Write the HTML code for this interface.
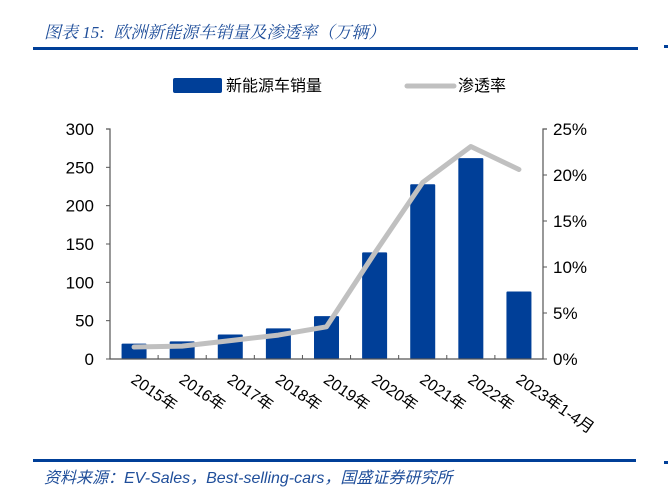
<!DOCTYPE html>
<html><head><meta charset="utf-8"><style>
body{margin:0;background:#fff;width:668px;height:490px;overflow:hidden;position:relative;font-family:"Liberation Sans","Noto Sans CJK SC",sans-serif}
.t{position:absolute;white-space:nowrap}
</style></head><body>
<div class="t" style="left:44px;top:18px;font-size:17px;font-style:italic;color:#1f4e9a;font-family:'Liberation Serif','Noto Serif CJK SC',serif">图表 15:&nbsp; 欧洲新能源车销量及渗透率（万辆）</div>
<div style="position:absolute;left:33px;top:47px;width:605px;height:3px;background:#003f98"></div>
<div style="position:absolute;left:664px;top:45px;width:4px;height:3px;background:#003f98"></div>
<svg id="c" width="668" height="490" style="position:absolute;left:0;top:0"></svg>
<div style="position:absolute;left:33px;top:459px;width:603px;height:3px;background:#003f98"></div>
<div style="position:absolute;left:664px;top:461px;width:4px;height:3px;background:#003f98"></div>
<div class="t" style="left:44px;top:464px;font-size:16px;font-style:italic;color:#1f4e9a">资料来源：EV-Sales，Best-selling-cars，国盛证券研究所</div>
<script>
const categories=["2015年","2016年","2017年","2018年","2019年","2020年","2021年","2022年","2023年1-4月"];
const sales=[20,23,32,40,56,139,228,262,88];
const penetration=[1.3,1.4,2.0,2.6,3.5,11.5,19.2,23.1,20.6];
const leftTicks=[0,50,100,150,200,250,300];
const rightTicks=[0,5,10,15,20,25];
const svg=document.getElementById('c');const NS='http://www.w3.org/2000/svg';
const L=110,R=543,T=129,B=359;
const bw=(R-L)/categories.length;
const xc=i=>L+bw*(i+0.5);
const yL=v=>B-(v/300)*(B-T);
const yR=v=>B-(v/25)*(B-T);
function mk(tag,a){const e=document.createElementNS(NS,tag);for(const k in a)e.setAttribute(k,a[k]);svg.appendChild(e);return e;}
// legend
let e=mk('rect',{x:173,y:78,width:49,height:15,rx:2,fill:'#003f98'});

e=mk('text',{x:226,y:91,'font-size':16,fill:'#000'});e.textContent='新能源车销量';

e=mk('line',{x1:407,y1:86,x2:454,y2:86,stroke:'#c0c0c0','stroke-width':5,'stroke-linecap':'round'});

e=mk('text',{x:458,y:91,'font-size':16,fill:'#000'});e.textContent='渗透率';

// bars
sales.forEach((v,i)=>{const r=mk('rect',{x:xc(i)-12.5,y:yL(v),width:25,height:B-yL(v),fill:'#003f98',rx:1});
});
// axes
e=mk('path',{d:`M${L-4},${T}H${L}V${B}H${R}V${T}H${R+4}`,fill:'none',stroke:'#555','stroke-width':1.2});

leftTicks.forEach(v=>{mk('line',{x1:L-4,x2:L,y1:yL(v),y2:yL(v),stroke:'#555'});
const t=mk('text',{x:L-16,y:yL(v)+6,'font-size':17,'text-anchor':'end',fill:'#000'});t.textContent=v;
});
rightTicks.forEach(v=>{mk('line',{x1:R,x2:R+4,y1:yR(v),y2:yR(v),stroke:'#555'});
const t=mk('text',{x:R+10,y:yR(v)+6,'font-size':17,fill:'#000'});t.textContent=v+'%';
});
categories.forEach((c,i)=>{const x=L+bw*(i+1);mk('line',{x1:x,x2:x,y1:B,y2:B-4,stroke:'#555'});
const t=mk('text',{x:0,y:0,'font-size':16,fill:'#000',transform:`translate(${xc(i)-4},${B+23}) rotate(35)`});t.textContent=c;
});
// line
const p=mk('polyline',{points:penetration.map((v,i)=>xc(i)+','+yR(v)).join(' '),fill:'none',stroke:'#c0c0c0','stroke-width':5,'stroke-linejoin':'round','stroke-linecap':'round'});

</script>
</body></html>
